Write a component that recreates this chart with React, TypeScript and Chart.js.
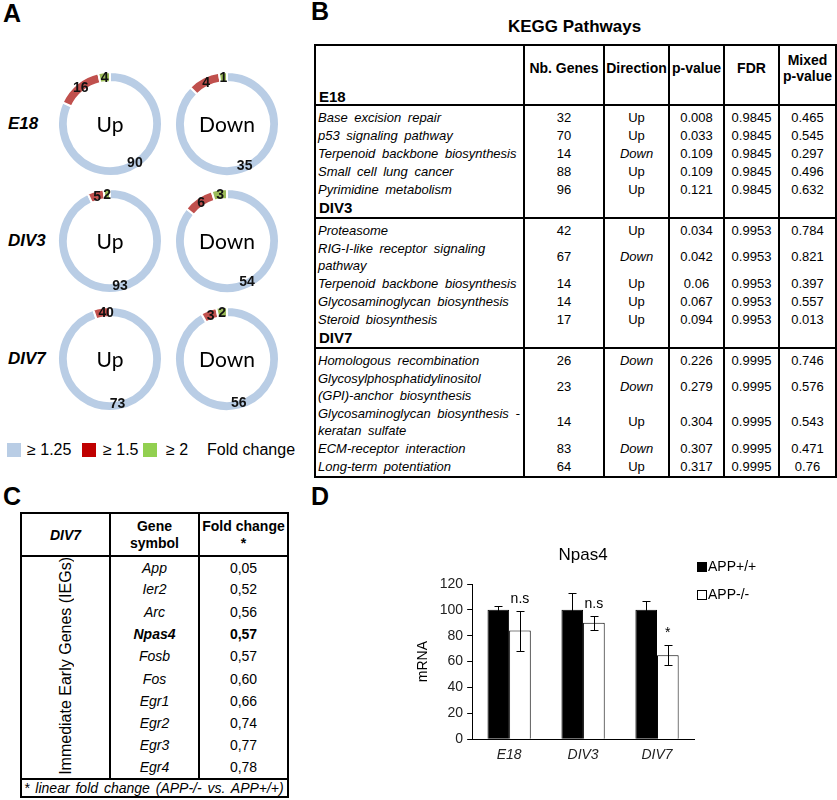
import React, { useEffect, useRef } from "react";
import { Chart, registerables } from "chart.js";

Chart.register(...registerables);

const SANS = '"Liberation Sans", Arial, sans-serif';
const CAL = 'Lato, "Open Sans", sans-serif';

// ---------- Panel A : differentially expressed genes ----------
const stageNames = ["E18", "DIV3", "DIV7"];
const directionNames = ["Up", "Down"];
const foldClassLabels = ["≥ 1.25", "≥ 1.5", "≥ 2"];
const upFold125 = [90, 93, 73];
const upFold15 = [16, 5, 4];
const upFold2 = [4, 2, 0];
const downFold125 = [35, 54, 56];
const downFold15 = [4, 6, 3];
const downFold2 = [1, 3, 2];
const ringColors = ["#b9cde5", "#c0504d", "#9bbb59"];
const legendColors = ["#b9cde5", "#c00000", "#92d050"];

// ---------- Panel B : KEGG pathways ----------
const keggStages = ["E18", "DIV3", "DIV7"];
const keggRowStage = ["E18", "E18", "E18", "E18", "E18", "DIV3", "DIV3", "DIV3", "DIV3", "DIV3", "DIV7", "DIV7", "DIV7", "DIV7", "DIV7"];
const keggPathway = [
  "Base excision repair",
  "p53 signaling pathway",
  "Terpenoid backbone biosynthesis",
  "Small cell lung cancer",
  "Pyrimidine metabolism",
  "Proteasome",
  "RIG-I-like receptor signaling\npathway",
  "Terpenoid backbone biosynthesis",
  "Glycosaminoglycan biosynthesis",
  "Steroid biosynthesis",
  "Homologous recombination",
  "Glycosylphosphatidylinositol\n(GPI)-anchor biosynthesis",
  "Glycosaminoglycan biosynthesis -\nkeratan sulfate",
  "ECM-receptor interaction",
  "Long-term potentiation",
];
const keggNbGenes = [32, 70, 14, 88, 96, 42, 67, 14, 14, 17, 26, 23, 14, 83, 64];
const keggDirection = ["Up", "Up", "Down", "Up", "Up", "Up", "Down", "Up", "Up", "Up", "Down", "Down", "Up", "Down", "Up"];
const keggPValue = ["0.008", "0.033", "0.109", "0.109", "0.121", "0.034", "0.042", "0.06", "0.067", "0.094", "0.226", "0.279", "0.304", "0.307", "0.317"];
const keggFDR = ["0.9845", "0.9845", "0.9845", "0.9845", "0.9845", "0.9953", "0.9953", "0.9953", "0.9953", "0.9953", "0.9995", "0.9995", "0.9995", "0.9995", "0.9995"];
const keggMixedP = ["0.465", "0.545", "0.297", "0.496", "0.632", "0.784", "0.821", "0.397", "0.557", "0.013", "0.746", "0.576", "0.543", "0.471", "0.76"];
const keggHeaders = ["Nb. Genes", "Direction", "p-value", "FDR", "Mixed\np-value"];

// ---------- Panel C : immediate early genes ----------
const iegGenes = ["App", "Ier2", "Arc", "Npas4", "Fosb", "Fos", "Egr1", "Egr2", "Egr3", "Egr4"];
const iegFoldChange = ["0,05", "0,52", "0,56", "0,57", "0,57", "0,60", "0,66", "0,74", "0,77", "0,78"];
const iegHighlight = "Npas4";

// ---------- Panel D : Npas4 qPCR ----------
const qpcrStages = ["E18", "DIV3", "DIV7"];
const genotypes = ["APP+/+", "APP-/-"];
const wtMean = [100, 100, 100];
const wtErr = [3, 13, 7];
const koMean = [84, 90, 65];
const koErr = [15.5, 5.5, 8];
const sigLabels = ["n.s", "n.s", "*"];

const donutText = {
  id: "donutText",
  afterDatasetsDraw(chart: any, _args: any, opts: any) {
    const ctx = chart.ctx;
    const meta = chart.getDatasetMeta(0);
    const ds = chart.data.datasets[0];
    ctx.save();
    ctx.textAlign = "center";
    ctx.textBaseline = "middle";
    ctx.fillStyle = "#111";
    ctx.font = `bold 14px ${SANS}`;
    let cx = 0;
    let cy = 0;
    meta.data.forEach((arc: any, i: number) => {
      const p = arc.getProps(["startAngle", "endAngle", "innerRadius", "outerRadius", "x", "y"], true);
      cx = p.x;
      cy = p.y;
      const mid = (p.startAngle + p.endAngle) / 2;
      const r = (p.innerRadius + p.outerRadius) / 2 - 1;
      ctx.fillText(String(ds.data[i]), p.x + Math.cos(mid) * r, p.y + Math.sin(mid) * r);
    });
    ctx.font = `21px ${CAL}`;
    ctx.fillStyle = "#000";
    ctx.fillText(opts.center, cx, cy + 1);
    ctx.restore();
  },
};

function Donut({ values, center, cx, cy }: { values: number[]; center: string; cx: number; cy: number }) {
  const ref = useRef<HTMLCanvasElement>(null);
  const size = 106;
  useEffect(() => {
    const chart = new Chart(ref.current as HTMLCanvasElement, {
      type: "doughnut",
      data: {
        labels: foldClassLabels,
        datasets: [{ data: values, backgroundColor: ringColors, borderColor: "#fff", borderWidth: 2, hoverOffset: 0 }],
      },
      options: {
        animation: false,
        responsive: false,
        maintainAspectRatio: false,
        cutout: "81%",
        events: [],
        layout: { padding: 0 },
        plugins: { legend: { display: false }, tooltip: { enabled: false }, donutText: { center } } as any,
      },
      plugins: [donutText],
    });
    return () => chart.destroy();
  }, []);
  return (
    <canvas
      ref={ref}
      width={size}
      height={size}
      style={{ position: "absolute", left: cx - size / 2, top: cy - size / 2, width: size, height: size }}
    />
  );
}

const errorBars = {
  id: "errorBars",
  afterDatasetsDraw(chart: any) {
    const { ctx } = chart;
    const y = chart.scales.y;
    ctx.save();
    ctx.strokeStyle = "#000";
    ctx.lineWidth = 1;
    chart.data.datasets.forEach((ds: any, di: number) => {
      const meta = chart.getDatasetMeta(di);
      meta.data.forEach((bar: any, i: number) => {
        const v = ds.data[i];
        const e = ds.errors[i];
        const x = Math.round(bar.x) + 0.5;
        const yt = Math.round(y.getPixelForValue(v + e)) + 0.5;
        const yb = Math.round(y.getPixelForValue(v - e)) + 0.5;
        ctx.beginPath();
        ctx.moveTo(x, yt);
        ctx.lineTo(x, yb);
        ctx.moveTo(x - 4, yt);
        ctx.lineTo(x + 4, yt);
        ctx.moveTo(x - 4, yb);
        ctx.lineTo(x + 4, yb);
        ctx.stroke();
        if (di === 1) {
          ctx.fillStyle = "#000";
          ctx.font = `14px ${SANS}`;
          ctx.textAlign = "center";
          ctx.textBaseline = "alphabetic";
          ctx.fillText(ds.sig[i], bar.x, yt - 9);
        }
      });
    });
    ctx.restore();
  },
};

const barLegend = {
  id: "barLegend",
  afterDraw(chart: any) {
    const { ctx, chartArea } = chart;
    ctx.save();
    ctx.font = `14px ${SANS}`;
    ctx.textBaseline = "middle";
    ctx.textAlign = "left";
    chart.data.datasets.forEach((ds: any, i: number) => {
      const bx = Math.round(chartArea.right + 3);
      const cy = Math.round(chartArea.top - 17 + i * 28);
      ctx.fillStyle = ds.backgroundColor;
      ctx.fillRect(bx, cy - 5, 10, 10);
      ctx.strokeStyle = "#000";
      ctx.lineWidth = 1;
      ctx.strokeRect(bx + 0.5, cy - 4.5, 9, 9);
      ctx.fillStyle = "#000";
      ctx.fillText(ds.label, bx + 11, cy);
    });
    ctx.restore();
  },
};

function NpasChart() {
  const ref = useRef<HTMLCanvasElement>(null);
  useEffect(() => {
    const chart = new Chart(ref.current as HTMLCanvasElement, {
      type: "bar",
      data: {
        labels: qpcrStages,
        datasets: [
          {
            label: genotypes[0],
            data: wtMean,
            errors: wtErr,
            sig: sigLabels,
            backgroundColor: "#000",
            borderColor: "#000",
            borderWidth: 1,
            categoryPercentage: 0.585,
            barPercentage: 1,
          } as any,
          {
            label: genotypes[1],
            data: koMean,
            errors: koErr,
            sig: sigLabels,
            backgroundColor: "#fff",
            borderColor: "#000",
            borderWidth: 1,
            categoryPercentage: 0.585,
            barPercentage: 1,
          } as any,
        ],
      },
      options: {
        animation: false,
        responsive: false,
        maintainAspectRatio: false,
        events: [],
        layout: { padding: { left: 31, right: 143, top: 0, bottom: 28 } },
        plugins: {
          legend: { display: false },
          tooltip: { enabled: false },
          title: {
            display: true,
            text: "Npas4",
            fullSize: false,
            color: "#000",
            font: { family: SANS, size: 17, weight: "normal" },
            padding: { top: 5, bottom: 18.6 },
          },
        },
        scales: {
          x: {
            grid: { display: false, drawTicks: false },
            border: { color: "#000" },
            ticks: { color: "#222", font: { family: SANS, size: 14, style: "italic" }, padding: 8 },
          },
          y: {
            min: 0,
            max: 120,
            ticks: { stepSize: 20, color: "#222", font: { family: SANS, size: 14 }, padding: 4 },
            grid: { drawOnChartArea: false, drawTicks: true, tickLength: 5, color: "#000" },
            border: { color: "#000" },
            title: { display: true, text: "mRNA", color: "#000", font: { family: SANS, size: 14 }, padding: { top: 4, bottom: 4 } },
          },
        },
      } as any,
      plugins: [errorBars, barLegend],
    });
    return () => chart.destroy();
  }, []);
  return <canvas ref={ref} width={457} height={260} style={{ position: "absolute", left: 380, top: 540, width: 457, height: 260 }} />;
}

const BL = "2px solid #000";

function KeggTable() {
  const cell = (extra: any = {}) => ({ borderLeft: BL, borderRight: BL, padding: "0 3px", ...extra });
  const rows: any[] = [];
  rows.push(
    <tr key="h" style={{ height: 44 }}>
      <td style={cell()}></td>
      {keggHeaders.map((h, i) => (
        <td key={i} style={cell({ fontWeight: "bold", fontSize: 14, textAlign: "center", whiteSpace: "pre", lineHeight: "16px", padding: 0 })}>
          {h}
        </td>
      ))}
    </tr>
  );
  keggStages.forEach((stage, g) => {
    rows.push(
      <tr key={"t" + g} style={{ height: g === 0 ? 14 : 20 }}>
        <td style={cell({ fontWeight: "bold", fontSize: 15, lineHeight: "15px", verticalAlign: g === 0 ? "bottom" : "middle" })}>{stage}</td>
        {keggHeaders.map((_, i) => (
          <td key={i} style={cell()}></td>
        ))}
      </tr>
    );
    rows.push(
      <tr key={"s" + g} style={{ height: 3 }}>
        {[0, 1, 2, 3, 4, 5].map((i) => (
          <td key={i} style={cell({ borderTop: BL, padding: 0, fontSize: 0, lineHeight: 0 })}></td>
        ))}
      </tr>
    );
    keggPathway.forEach((name, r) => {
      if (keggRowStage[r] !== stage) return;
      const two = name.includes("\n");
      const dirStyle = keggDirection[r] === "Down" ? "italic" : "normal";
      rows.push(
        <tr key={"r" + r} style={{ height: two ? 35 : 18 }}>
          <td style={cell({ fontStyle: "italic", whiteSpace: "pre", wordSpacing: 3, lineHeight: "17px", padding: "0 2px" })}>{name}</td>
          <td style={cell({ textAlign: "center" })}>{keggNbGenes[r]}</td>
          <td style={cell({ textAlign: "center", fontStyle: dirStyle })}>{keggDirection[r]}</td>
          <td style={cell({ textAlign: "center", padding: 0 })}>{keggPValue[r]}</td>
          <td style={cell({ textAlign: "center", padding: 0 })}>{keggFDR[r]}</td>
          <td style={cell({ textAlign: "center", padding: 0 })}>{keggMixedP[r]}</td>
        </tr>
      );
    });
  });
  rows.push(
    <tr key="end" style={{ height: 2 }}>
      {[0, 1, 2, 3, 4, 5].map((i) => (
        <td key={i} style={cell({ padding: 0, fontSize: 0, lineHeight: 0 })}></td>
      ))}
    </tr>
  );
  return (
    <>
      <div style={{ position: "absolute", left: 314, width: 521, top: 17, textAlign: "center", fontWeight: "bold", fontSize: 17 }}>KEGG Pathways</div>
      <table
        style={{
          position: "absolute",
          left: 314,
          top: 44,
          width: 521,
          borderCollapse: "collapse",
          tableLayout: "fixed",
          border: BL,
          fontSize: 13,
          color: "#000",
        }}
      >
        <colgroup>
          {[209, 80, 65, 55, 55, 57].map((w, i) => (
            <col key={i} style={{ width: w }} />
          ))}
        </colgroup>
        <tbody>{rows}</tbody>
      </table>
    </>
  );
}

function IegTable() {
  const c = (extra: any = {}) => ({ borderLeft: BL, borderRight: BL, padding: 0, textAlign: "center" as const, ...extra });
  return (
    <table
      style={{
        position: "absolute",
        left: 20,
        top: 512,
        width: 267,
        borderCollapse: "collapse",
        tableLayout: "fixed",
        border: BL,
        fontSize: 14,
        color: "#000",
      }}
    >
      <colgroup>
        <col style={{ width: 89 }} />
        <col style={{ width: 89 }} />
        <col style={{ width: 89 }} />
      </colgroup>
      <tbody>
        <tr style={{ height: 43 }}>
          <td style={c({ fontWeight: "bold", fontStyle: "italic" })}>DIV7</td>
          <td style={c({ fontWeight: "bold", lineHeight: "17px" })}>
            Gene
            <br />
            symbol
          </td>
          <td style={c({ fontWeight: "bold", lineHeight: "17px" })}>
            Fold change
            <br />*
          </td>
        </tr>
        {iegGenes.map((g, i) => (
          <tr key={g} style={{ height: 22 }}>
            {i === 0 && (
              <td rowSpan={iegGenes.length} style={c({ borderTop: BL, verticalAlign: "middle" })}>
                <div style={{ display: "inline-block", writingMode: "vertical-rl", transform: "rotate(180deg)", fontSize: 16, whiteSpace: "nowrap" }}>
                  Immediate Early Genes (IEGs)
                </div>
              </td>
            )}
            <td style={c({ borderTop: i === 0 ? BL : "none", fontStyle: "italic", fontWeight: g === iegHighlight ? "bold" : "normal" })}>{g}</td>
            <td style={c({ borderTop: i === 0 ? BL : "none", fontWeight: g === iegHighlight ? "bold" : "normal" })}>{iegFoldChange[i]}</td>
          </tr>
        ))}
        <tr style={{ height: 18 }}>
          <td colSpan={3} style={{ borderTop: BL, fontStyle: "italic", padding: "0 2px", wordSpacing: 2, textAlign: "left" }}>
            * linear fold change (APP-/- vs. APP+/+)
          </td>
        </tr>
      </tbody>
    </table>
  );
}

const donutCentersX = [110, 227];
const donutCentersY = [124, 241, 359];

export default function App() {
  const upSets = stageNames.map((_, i) => [upFold125[i], upFold15[i], upFold2[i]]);
  const downSets = stageNames.map((_, i) => [downFold125[i], downFold15[i], downFold2[i]]);
  const letter = { position: "absolute" as const, fontWeight: "bold", fontSize: 25, lineHeight: "25px" };
  return (
    <div style={{ position: "absolute", left: 0, top: 0, width: 837, height: 800, background: "#fff", fontFamily: SANS, color: "#000", overflow: "hidden" }}>
      <div style={{ ...letter, left: 3, top: 1 }}>A</div>
      <div style={{ ...letter, left: 311, top: -1 }}>B</div>
      <div style={{ ...letter, left: 3, top: 484 }}>C</div>
      <div style={{ ...letter, left: 311, top: 484 }}>D</div>

      {stageNames.map((s, i) => (
        <div key={s} style={{ position: "absolute", left: 8, top: donutCentersY[i] - 10, fontWeight: "bold", fontStyle: "italic", fontSize: 17, lineHeight: "20px" }}>
          {s}
        </div>
      ))}
      {stageNames.map((s, i) => (
        <React.Fragment key={"d" + s}>
          <Donut values={upSets[i]} center={directionNames[0]} cx={donutCentersX[0]} cy={donutCentersY[i]} />
          <Donut values={downSets[i]} center={directionNames[1]} cx={donutCentersX[1]} cy={donutCentersY[i]} />
        </React.Fragment>
      ))}

      {foldClassLabels.map((l, i) => (
        <React.Fragment key={l}>
          <div style={{ position: "absolute", left: [7, 82, 143][i], top: 443, width: 14, height: 14, background: legendColors[i] }} />
          <div style={{ position: "absolute", left: [27, 103, 166][i], top: 440, fontSize: 16, lineHeight: "20px" }}>{l}</div>
        </React.Fragment>
      ))}
      <div style={{ position: "absolute", left: 207, top: 440, fontSize: 16, lineHeight: "20px" }}>Fold change</div>

      <KeggTable />
      <IegTable />
      <NpasChart />
    </div>
  );
}
